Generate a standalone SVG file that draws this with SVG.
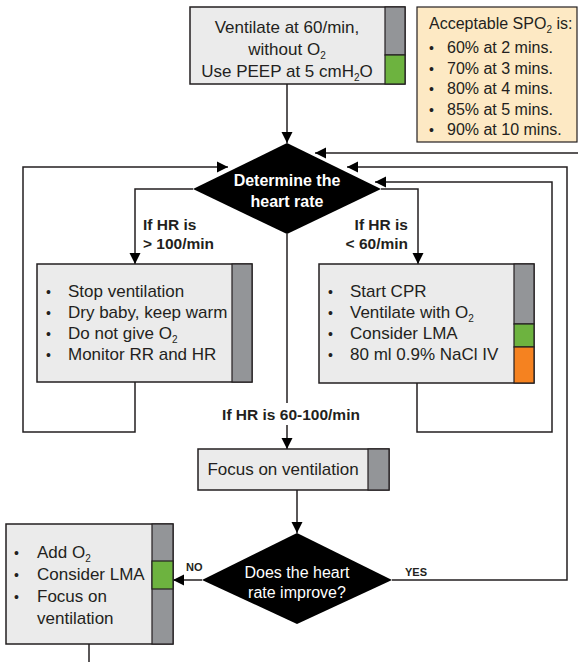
<svg xmlns="http://www.w3.org/2000/svg" width="578" height="662" viewBox="0 0 578 662">
  <defs>
    <style>
      .box { fill: #ebebeb; stroke: #231f20; stroke-width: 1.5; }
      .note { fill: #fde9c4; stroke: #231f20; stroke-width: 1.2; }
      .gray { fill: #939598; stroke: #231f20; stroke-width: 1.2; }
      .green { fill: #6db33f; stroke: #231f20; stroke-width: 1.2; }
      .orange { fill: #f58220; stroke: #231f20; stroke-width: 1.2; }
      .decision { fill: #000000; }
      .wire { fill: none; stroke: #231f20; stroke-width: 1.5; }
      .txt { font-family: "Liberation Sans", Arial, sans-serif; font-size: 17px; fill: #231f20; }
      .note-txt { font-family: "Liberation Sans", Arial, sans-serif; font-size: 16px; fill: #231f20; }
      .dec-txt { font-family: "Liberation Sans", Arial, sans-serif; font-size: 16px; fill: #ffffff; text-anchor: middle; }
      .lbl { font-family: "Liberation Sans", Arial, sans-serif; font-size: 15.5px; font-weight: bold; fill: #231f20; }
      .tiny { font-family: "Liberation Sans", Arial, sans-serif; font-size: 11px; font-weight: bold; fill: #231f20; }
      .bul { font-family: "Liberation Sans", Arial, sans-serif; font-size: 14px; fill: #231f20; }
      .sub { font-size: 10px; }
    </style>
    <marker id="arrow" viewBox="0 0 10 10" refX="10" refY="5" markerUnits="userSpaceOnUse" markerWidth="11" markerHeight="13" orient="auto">
      <path d="M0,0 L10,5 L0,10 z" fill="#000000"/>
    </marker>
  </defs>

  <rect width="578" height="662" fill="#ffffff"/>

  <!-- connectors -->
  <g id="connectors">
    <path class="wire" d="M287,84 V143" marker-end="url(#arrow)"/>
    <!-- HR > 100 branch -->
    <path class="wire" d="M193,189 H135 V264" marker-end="url(#arrow)"/>
    <!-- HR < 60 branch -->
    <path class="wire" d="M381,189 H418 V264" marker-end="url(#arrow)"/>
    <!-- HR 60-100 branch, broken around its label -->
    <path class="wire" d="M287,234 V403"/>
    <path class="wire" d="M287,425 V449" marker-end="url(#arrow)"/>
    <!-- loop back from left box -->
    <path class="wire" d="M135,382 V432 H23 V167 H228" marker-end="url(#arrow)"/>
    <!-- loop back from right box -->
    <path class="wire" d="M417,383 V432 H552 V182 H375" marker-end="url(#arrow)"/>
    <!-- YES loop -->
    <path class="wire" d="M392,580 H567 V167 H347" marker-end="url(#arrow)"/>
    <!-- return line entering from the right edge -->
    <path class="wire" d="M578,153 H315" marker-end="url(#arrow)"/>
    <!-- focus box to second decision -->
    <path class="wire" d="M297,490 V533" marker-end="url(#arrow)"/>
    <!-- NO branch -->
    <path class="wire" d="M202,580 H173" marker-end="url(#arrow)"/>
    <!-- continuation below -->
    <path class="wire" d="M89,644 V662"/>
  </g>

  <!-- start box -->
  <g id="start">
    <rect class="box" x="190" y="7" width="215" height="77"/>
    <rect class="gray" x="385" y="7" width="20" height="48"/>
    <rect class="green" x="385" y="55" width="20" height="29"/>
    <text class="txt" x="287" y="33" text-anchor="middle" font-size="17.5">Ventilate at 60/min,</text>
    <text class="txt" x="287" y="55" text-anchor="middle" font-size="17.5">without O<tspan class="sub" dy="4">2</tspan></text>
    <text class="txt" x="287" y="77" text-anchor="middle" font-size="17.5">Use PEEP at 5 cmH<tspan class="sub" dy="4">2</tspan><tspan dy="-4">O</tspan></text>
  </g>

  <!-- SpO2 targets note -->
  <g id="spo2-note">
    <rect class="note" x="417" y="7" width="160" height="135"/>
    <text class="note-txt" x="429" y="29">Acceptable SPO<tspan class="sub" dy="4">2</tspan><tspan dy="-4"> is:</tspan></text>
    <g class="bul">
      <text x="429" y="53">•</text>
      <text x="429" y="73.5">•</text>
      <text x="429" y="94">•</text>
      <text x="429" y="114.5">•</text>
      <text x="429" y="135">•</text>
    </g>
    <text class="note-txt" x="447" y="53">60% at 2 mins.</text>
    <text class="note-txt" x="447" y="73.5">70% at 3 mins.</text>
    <text class="note-txt" x="447" y="94">80% at 4 mins.</text>
    <text class="note-txt" x="447" y="114.5">85% at 5 mins.</text>
    <text class="note-txt" x="447" y="135">90% at 10 mins.</text>
  </g>

  <!-- decision: heart rate -->
  <g id="determine-hr">
    <polygon class="decision" points="287,143 381,189 287,234 193,189"/>
    <text class="dec-txt" x="287" y="186" font-weight="bold">Determine the</text>
    <text class="dec-txt" x="287" y="207" font-weight="bold">heart rate</text>
  </g>

  <!-- branch labels -->
  <g id="branch-labels">
    <text class="lbl" x="143" y="230">If HR is</text>
    <text class="lbl" x="143" y="249">&gt; 100/min</text>
    <text class="lbl" x="408" y="230" text-anchor="end">If HR is</text>
    <text class="lbl" x="408" y="249" text-anchor="end">&lt; 60/min</text>
    <text class="lbl" x="291" y="420" text-anchor="middle">If HR is 60-100/min</text>
    <text class="tiny" x="405" y="576">YES</text>
    <text class="tiny" x="186" y="571">NO</text>
  </g>

  <!-- HR > 100 actions -->
  <g id="hr-high">
    <rect class="box" x="37" y="264" width="215" height="118"/>
    <rect class="gray" x="232" y="264" width="20" height="118"/>
    <g class="bul">
      <text x="46" y="297">•</text>
      <text x="46" y="318">•</text>
      <text x="46" y="339">•</text>
      <text x="46" y="360">•</text>
    </g>
    <text class="txt" x="68" y="297">Stop ventilation</text>
    <text class="txt" x="68" y="318">Dry baby, keep warm</text>
    <text class="txt" x="68" y="339">Do not give O<tspan class="sub" dy="4">2</tspan></text>
    <text class="txt" x="68" y="360">Monitor RR and HR</text>
  </g>

  <!-- HR < 60 actions -->
  <g id="hr-low">
    <rect class="box" x="319" y="264" width="215" height="119"/>
    <rect class="gray" x="514" y="264" width="20" height="60"/>
    <rect class="green" x="514" y="324" width="20" height="23"/>
    <rect class="orange" x="514" y="347" width="20" height="36"/>
    <g class="bul">
      <text x="328" y="297">•</text>
      <text x="328" y="318">•</text>
      <text x="328" y="339">•</text>
      <text x="328" y="360">•</text>
    </g>
    <text class="txt" x="350" y="297">Start CPR</text>
    <text class="txt" x="350" y="318">Ventilate with O<tspan class="sub" dy="4">2</tspan></text>
    <text class="txt" x="350" y="339">Consider LMA</text>
    <text class="txt" x="350" y="360">80 ml 0.9% NaCl IV</text>
  </g>

  <!-- HR 60-100 action -->
  <g id="focus-ventilation">
    <rect class="box" x="198" y="449" width="191" height="41"/>
    <rect class="gray" x="368" y="449" width="21" height="41"/>
    <text class="txt" x="283" y="475" text-anchor="middle">Focus on ventilation</text>
  </g>

  <!-- decision: improvement -->
  <g id="hr-improve">
    <polygon class="decision" points="297,533 392,580 297,624 202,580"/>
    <text class="dec-txt" x="297" y="578">Does the heart</text>
    <text class="dec-txt" x="297" y="598">rate improve?</text>
  </g>

  <!-- no improvement actions -->
  <g id="no-improve">
    <rect class="box" x="6" y="524" width="167" height="120"/>
    <rect class="gray" x="152" y="524" width="21" height="120"/>
    <rect class="green" x="152" y="561" width="21" height="28"/>
    <g class="bul">
      <text x="14" y="558">•</text>
      <text x="14" y="580">•</text>
      <text x="14" y="602">•</text>
    </g>
    <text class="txt" x="37" y="558">Add O<tspan class="sub" dy="4">2</tspan></text>
    <text class="txt" x="37" y="580">Consider LMA</text>
    <text class="txt" x="37" y="602">Focus on</text>
    <text class="txt" x="37" y="624">ventilation</text>
  </g>
</svg>
